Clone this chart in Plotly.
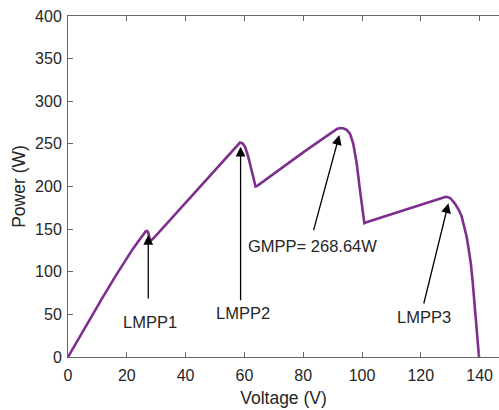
import plotly.graph_objects as go

voltage = [0, 4, 8, 12, 16, 20, 22, 24, 25, 25.8, 26.4, 26.9, 27.3, 27.6, 27.9,
           29, 35, 40, 45, 50, 54, 56, 57.5, 58.5, 59.4, 60.2, 61.3, 62.5, 63.3, 63.8,
           64.5, 70, 75, 80, 85, 88, 90, 91.5, 92.5, 93.6, 94.8, 95.9, 97, 98.2, 99.3, 100.1, 100.8,
           101.5, 105, 110, 115, 120, 124, 126.5, 128, 128.8, 130, 131.6, 133, 133.9, 135,
           135.6, 136.3, 137, 137.6, 138.1, 138.7, 139.2, 139.5, 139.8]
power = [0, 24, 48, 71, 94, 116, 126.5, 136, 141, 145, 147.3, 147.8, 146, 141.5, 136,
         139, 162, 181, 200, 219, 234, 242, 248.5, 251.5, 250.5, 246.7, 235, 219, 206, 200,
         201, 215, 227.5, 240, 252, 259, 264, 267.5, 268.64, 268.3, 266.5, 262, 250.6, 227, 196, 172, 157,
         158, 162, 167.5, 173, 178.5, 183, 186, 187.5, 188, 186.5, 180, 172, 165, 150,
         141, 126, 110, 90, 71, 50, 32, 16, 0]

x_ticks = [0, 20, 40, 60, 80, 100, 120, 140]
y_ticks = [0, 50, 100, 150, 200, 250, 300, 350, 400]

# annotations: label, tip (x, y), tail (x, y), text centre (x, y)
labels = ["LMPP1", "LMPP2", "GMPP= 268.64W", "LMPP3"]
tip_x = [27.3, 58.7, 92.3, 129.4]
tip_y = [143, 246.7, 260.4, 180.3]
tail_x = [27.3, 58.7, 83.4, 120.9]
tail_y = [66.9, 64.9, 147, 61]
text_x = [28.0, 59.5, 83.2, 121.2]
text_y = [41.4, 51.6, 130, 47.3]

fig = go.Figure()
fig.add_trace(go.Scatter(x=voltage, y=power, mode="lines",
                         line=dict(color="#7E2F8E", width=2.6),
                         showlegend=False, hoverinfo="skip"))

fam = "Liberation Sans, Arial, sans-serif"
tick_font = dict(family=fam, size=16, color="#262626")
ann_font = dict(family=fam, size=16.5, color="#262626")
title_font = dict(family=fam, size=17.5, color="#262626")

anns = []
for i in range(len(labels)):
    anns.append(dict(x=tip_x[i], y=tip_y[i], ax=tail_x[i], ay=tail_y[i],
                     xref="x", yref="y", axref="x", ayref="y",
                     text="", showarrow=True, arrowhead=2, arrowsize=1.5,
                     arrowwidth=1.3, arrowcolor="black"))
    anns.append(dict(x=text_x[i], y=text_y[i], xref="x", yref="y",
                     text=labels[i], showarrow=False, font=ann_font))

fig.update_layout(
    width=499, height=410,
    margin=dict(l=68, r=0, t=16, b=53),
    paper_bgcolor="white", plot_bgcolor="white",
    annotations=anns,
    xaxis=dict(range=[0, 146.6], tickvals=x_ticks, ticks="inside", ticklen=5,
               tickcolor="#666666", showline=True, linecolor="#666666", linewidth=1,
               mirror="ticks", showgrid=False, zeroline=False, ticklabelstandoff=4,
               title=dict(text="Voltage (V)", font=title_font, standoff=8),
               tickfont=tick_font),
    yaxis=dict(range=[0, 400], tickvals=y_ticks, ticks="inside", ticklen=5,
               tickcolor="#666666", showline=True, linecolor="#666666", linewidth=1,
               mirror=False, showgrid=False, zeroline=False, ticklabelstandoff=2,
               title=dict(text="Power (W)", font=title_font, standoff=4),
               tickfont=tick_font),
)

fig.write_html("out.html")
